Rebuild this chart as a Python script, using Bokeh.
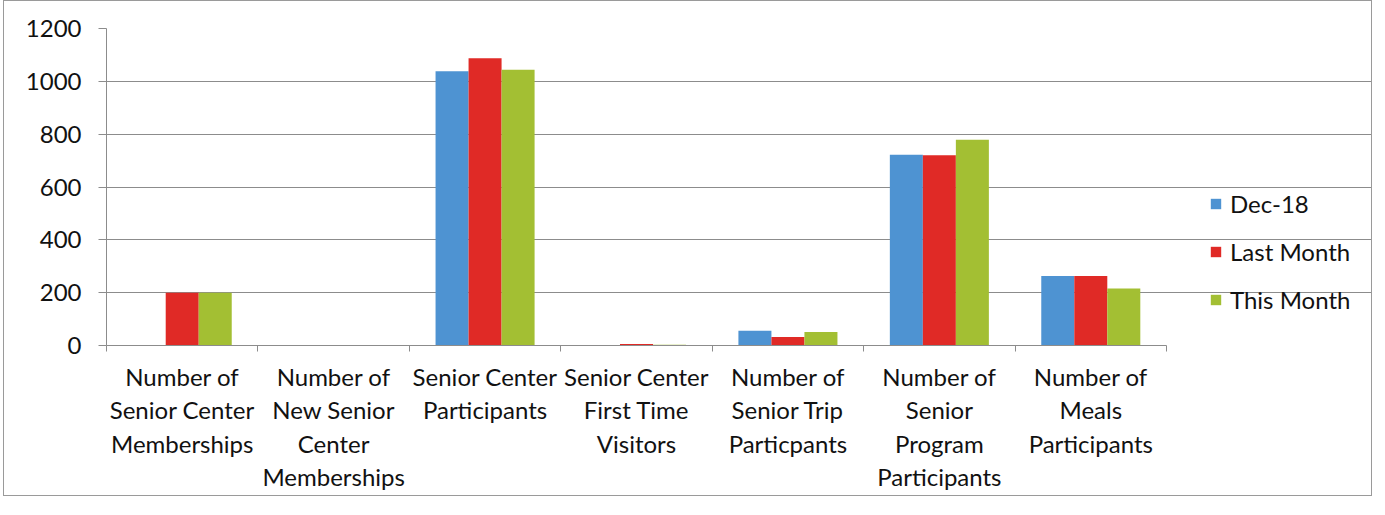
from bokeh.plotting import figure
from bokeh.models import FixedTicker, Legend, LegendItem, ColumnDataSource
from bokeh.embed import file_html
from bokeh.resources import INLINE
import numpy as np

categories = [
    "Number of\nSenior Center\nMemberships",
    "Number of\nNew Senior\nCenter\nMemberships",
    "Senior Center\nParticipants",
    "Senior Center\nFirst Time\nVisitors",
    "Number of\nSenior Trip\nParticpants",
    "Number of\nSenior\nProgram\nParticipants",
    "Number of\nMeals\nParticipants",
]
series_names = ["Dec-18", "Last Month", "This Month"]
dec18 = [0, 0, 1038, 2, 56, 722, 263]
last_month = [200, 0, 1087, 6, 32, 720, 263]
this_month = [200, 0, 1044, 3, 51, 779, 216]
colors = ["#4E93D2", "#E02A26", "#A3BF33"]
y_ticks = [0, 200, 400, 600, 800, 1000, 1200]

FONT = "Lato"
n = len(categories)

W = 1369
LEFT = 102
# frame spans to the right edge so the legend (drawn inside it) is not clipped;
# the category area occupies 1060 px of the frame
x_end = n * (W - LEFT) / 1060

p = figure(width=W, height=496, x_range=(0, x_end), y_range=(0, 1200),
           output_backend="svg", toolbar_location=None,
           min_border_left=LEFT, min_border_right=0, min_border_top=27,
           min_border_bottom=152)
p.styles = {"border": "1px solid #9a9a9a", "margin-left": "3px"}
p.outline_line_color = None
p.background_fill_color = "white"
p.border_fill_color = "white"

centers = np.arange(n) + 0.5
bw = 0.218
offsets = [-bw, 0.0, bw]
renderers = []
for vals, col, off in zip([dec18, last_month, this_month], colors, offsets):
    src = ColumnDataSource(dict(x=centers + off, top=vals))
    r = p.vbar(x="x", top="top", width=bw, bottom=0, source=src,
               fill_color=col, line_color=None)
    renderers.append(r)

# x axis: labels at category centres, ticks at category boundaries
p.xaxis.bounds = (0, n)
p.xaxis.ticker = FixedTicker(ticks=list(centers), minor_ticks=list(range(n + 1)))
p.xaxis.major_label_overrides = {float(c): lab for c, lab in zip(centers, categories)}
p.xaxis.major_tick_out = 0
p.xaxis.major_tick_in = 0
p.xaxis.minor_tick_out = 6
p.xaxis.minor_tick_in = 0
p.xaxis.minor_tick_line_color = "#8c8c8c"
p.xaxis.axis_line_color = "#8c8c8c"
p.xaxis.major_label_text_font = FONT
p.xaxis.major_label_text_font_size = "24px"
p.xaxis.major_label_text_color = "#111111"
p.xaxis.major_label_text_line_height = 1.16
p.xaxis.major_label_standoff = 10
p.xaxis.major_label_text_align = "center"

p.yaxis.ticker = FixedTicker(ticks=y_ticks, minor_ticks=[])
p.yaxis.major_tick_out = 8
p.yaxis.major_tick_in = 0
p.yaxis.major_tick_line_color = "#8c8c8c"
p.yaxis.axis_line_color = "#8c8c8c"
p.yaxis.major_label_text_font = FONT
p.yaxis.major_label_text_font_size = "24px"
p.yaxis.major_label_text_color = "#111111"
p.yaxis.major_label_standoff = 17

p.xgrid.grid_line_color = None
p.ygrid.ticker = FixedTicker(ticks=y_ticks)
p.ygrid.bounds = (0, n)
p.ygrid.grid_line_color = "#8c8c8c"
p.ygrid.grid_line_width = 1

legend = Legend(items=[LegendItem(label=nm, renderers=[r]) for nm, r in zip(series_names, renderers)],
                location=(1103, 31), orientation="vertical",
                label_text_font=FONT, label_text_font_size="24px", label_text_color="#111111",
                glyph_width=13, glyph_height=13, label_height=20, spacing=19,
                label_standoff=8, padding=0, margin=0,
                border_line_color=None, background_fill_alpha=0)
p.add_layout(legend, "center")

open("out.html", "w").write(file_html(p, INLINE))
